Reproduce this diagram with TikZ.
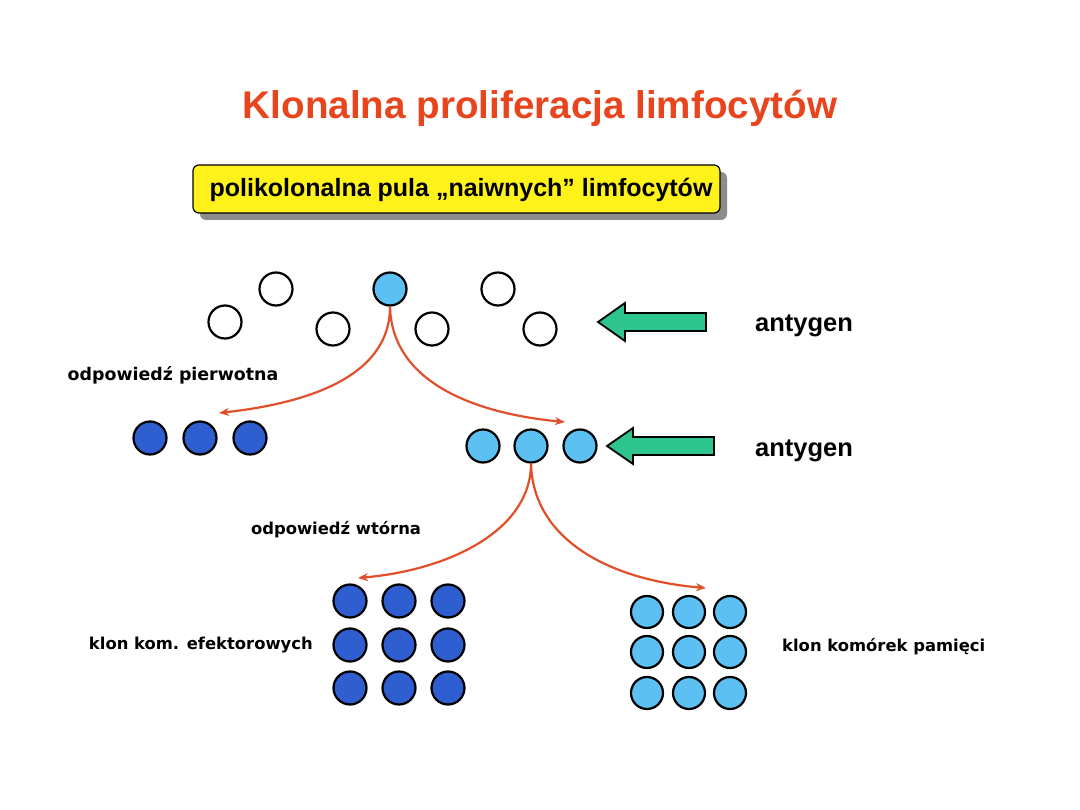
\documentclass[tikz,border=0pt]{standalone}
\usepackage{fontspec}
\setmainfont{Liberation Sans}
\newfontfamily\lblfont{DejaVu Sans}
\usetikzlibrary{arrows.meta}
\definecolor{titlered}{HTML}{E8451E}
\definecolor{darkblue}{HTML}{2E5ECF}
\definecolor{lightblue}{HTML}{5CC0F2}
\definecolor{agreen}{HTML}{2EC48E}
\definecolor{arrred}{HTML}{E0502A}
\definecolor{boxyellow}{HTML}{FFF21A}
\tikzset{
  cellw/.style={circle,draw=black,line width=2.2pt,fill=white,minimum size=33pt,inner sep=0pt},
  celll/.style={cellw,fill=lightblue},
  celld/.style={cellw,fill=darkblue},
  flow/.style={draw=arrred,line width=2.2pt,-{Stealth[length=10pt,width=8pt]}},
  lbl/.style={font=\lblfont\bfseries\fontsize{16.4}{19}\selectfont,inner sep=0pt},
  ag/.style={font=\bfseries\fontsize{25.5}{30}\selectfont,inner sep=0pt},
  garrow/.style={draw=black,line width=1.8pt,fill=agreen,line join=miter}
}
\begin{document}
\begin{tikzpicture}[x=1pt,y=-1pt]
\useasboundingbox (0,0) rectangle (1080,810);
\fill[white] (0,0) rectangle (1080,810);
% title
\node[font=\bfseries\fontsize{38.6}{44}\selectfont,text=titlered,inner sep=0pt] (title) at (540,108) {Klonalna proliferacja limfocytów};
% yellow box
\fill[black!45,rounded corners=6pt] (200,172) rectangle (727,220);
\node[draw=black,line width=1.2pt,fill=boxyellow,rounded corners=6pt,minimum width=527pt,minimum height=48pt,inner sep=0pt] (pool) at (456.5,189) {};
\node[font=\bfseries\fontsize{25}{30}\selectfont,inner sep=0pt] (pooltxt) at (461,190) {polikolonalna pula „naiwnych” limfocytów};
% top row
\node[cellw] (t1) at (225,322) {};
\node[cellw] (t2) at (276,289) {};
\node[cellw] (t3) at (333,329) {};
\node[celll] (t4) at (390,289) {};
\node[cellw] (t5) at (432,329) {};
\node[cellw] (t6) at (498,289) {};
\node[cellw] (t7) at (540,329) {};
% antigen arrows
\draw[garrow] (598,322) -- (625,303) -- (625,313) -- (706,313) -- (706,331) -- (625,331) -- (625,341) -- cycle;
\node[ag] (ag1) at (804,326) {antygen};
\draw[garrow] (607,446) -- (633,428) -- (633,437) -- (714,437) -- (714,455) -- (633,455) -- (633,464) -- cycle;
\node[ag] (ag2) at (804,451) {antygen};
% second row
\node[celld] (d1) at (150,438) {};
\node[celld] (d2) at (200,438) {};
\node[celld] (d3) at (250,438) {};
\node[celll] (l1) at (483,446) {};
\node[celll] (l2) at (531,446) {};
\node[celll] (l3) at (580,446) {};
\node[lbl,font=\lblfont\bfseries\fontsize{17.4}{20}\selectfont] (prim) at (173,375) {odpowiedź pierwotna};
\node[lbl] (sec) at (336,530) {odpowiedź wtórna};
% arrows from t4
\coordinate (e1) at (219,413);
\coordinate (e2) at (565,422);
\draw[flow] (t4.south) .. controls (390,380) and (300,404) .. (e1);
\draw[flow] (t4.south) .. controls (392,385) and (480,414) .. (e2);
% arrows from l2
\coordinate (e3) at (358,578);
\coordinate (e4) at (706,588);
\draw[flow] (l2.south) .. controls (531,530) and (450,570) .. (e3);
\draw[flow] (l2.south) .. controls (533,540) and (610,580) .. (e4);
% grids
\foreach \x [count=\i] in {350,399,448}{
  \foreach \y [count=\j] in {601,645,688}{
    \node[celld] (g\i\j) at (\x,\y) {};
  }
}
\foreach \x [count=\i] in {647,689,730}{
  \foreach \y [count=\j] in {612,652,693}{
    \node[celll,minimum size=32pt] (m\i\j) at (\x,\y) {};
  }
}
\node[lbl,anchor=east] (eff) at (313,645) {klon kom. efektorowych};
\node[lbl,anchor=west] (mem) at (782,647) {klon komórek pamięci};
\end{tikzpicture}
\end{document}
